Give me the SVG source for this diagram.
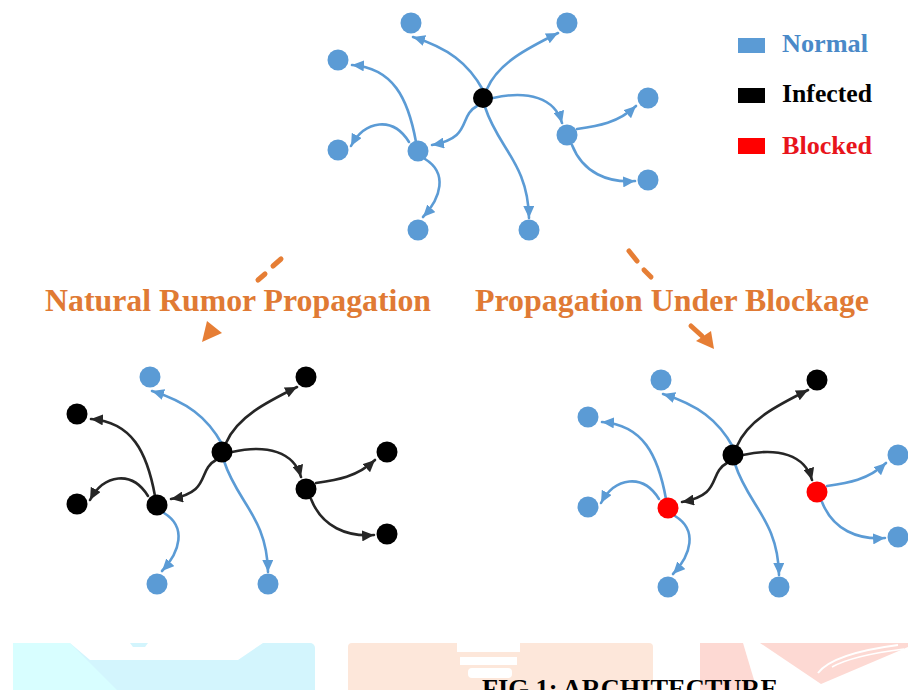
<svg xmlns="http://www.w3.org/2000/svg" width="908" height="690" viewBox="0 0 908 690">
<defs>
<style>
.bg{fill:#ffffff}
.eb{fill:none;stroke:#5B9BD5;stroke-width:2.6;stroke-linecap:round;marker-end:url(#mb)}
.ek{fill:none;stroke:#262626;stroke-width:2.6;stroke-linecap:round;marker-end:url(#mk)}
.nb{fill:#5B9BD5}
.nk{fill:#000000}
.nr{fill:#FF0000}
.lg{font-family:"Liberation Serif","Times New Roman",serif;font-weight:bold;font-size:25px}
.lab{font-family:"Liberation Serif","Times New Roman",serif;font-weight:bold;font-size:31px;fill:#E07A34}
.cap{font-family:"Liberation Serif","Times New Roman",serif;font-weight:bold;font-size:25px;fill:#000000}
.dash{stroke:#E67E35;stroke-width:5;stroke-linecap:round;fill:none}
</style>
<marker id="mb" markerUnits="userSpaceOnUse" markerWidth="13" markerHeight="11" refX="12" refY="5.5" orient="auto"><path d="M0,0 L12,5.5 L0,11 z" fill="#5B9BD5"/></marker>
<marker id="mk" markerUnits="userSpaceOnUse" markerWidth="13" markerHeight="11" refX="12" refY="5.5" orient="auto"><path d="M0,0 L12,5.5 L0,11 z" fill="#262626"/></marker>
</defs>
<rect class="bg" x="0" y="0" width="908" height="690"/>

<!-- watermark blocks -->
<g id="watermark">
<rect x="13" y="643" width="302" height="60" rx="5" fill="#D3F5FD"/>
<polygon points="13,643 70,643 117,690 13,690" fill="#D8FEFF"/>
<polygon points="70,643 263,643 238,660 90,660" fill="#FFFFFF"/>
<polygon points="130,643 148,643 145,647 133,647" fill="#D3F5FD"/>
<rect x="348" y="643" width="305" height="60" rx="4" fill="#FDE7DA"/>
<rect x="457" y="643" width="63" height="9" fill="#FFFFFF"/>
<rect x="460" y="657" width="57" height="8" fill="#FFFFFF"/>
<rect x="468" y="668" width="44" height="10" rx="4" fill="#FFFFFF"/>
<polygon points="700,643 743,643 757,690 700,690" fill="#FDD9D3"/>
<polygon points="760,643 908,643 908,647 821,684" fill="#FDD9D3"/>
<path d="M818,673 C828,660 852,651 898,645" stroke="#FFFFFF" stroke-width="2" fill="none"/>
<path d="M832,667 C848,658 872,653 904,649" stroke="#FFFFFF" stroke-width="1.5" fill="none"/>
</g>

<!-- legend -->
<g id="legend">
<g id="legend-normal"><rect x="738" y="38" width="27" height="15" fill="#5B9BD5"/><text class="lg" x="782" y="52" fill="#4A89C8" textLength="86" lengthAdjust="spacingAndGlyphs">Normal</text></g>
<g id="legend-infected"><rect x="738" y="88" width="27" height="15" fill="#000000"/><text class="lg" x="782" y="102" fill="#000000" textLength="90" lengthAdjust="spacingAndGlyphs">Infected</text></g>
<g id="legend-blocked"><rect x="738" y="138" width="27" height="16" fill="#FF0000"/><text class="lg" x="782" y="154" fill="#E8141B" textLength="90" lengthAdjust="spacingAndGlyphs">Blocked</text></g>
</g>

<!-- transition arrows and labels -->
<g id="transition-left">
<line class="dash" x1="273" y1="266" x2="281" y2="259"/>
<line class="dash" x1="258" y1="280" x2="265" y2="274"/>
<polygon points="202,342 207,321 222,333" fill="#E67E35"/>
<text id="label-natural" class="lab" x="45" y="311" textLength="386" lengthAdjust="spacingAndGlyphs">Natural Rumor Propagation</text>
</g>
<g id="transition-right">
<line class="dash" x1="629" y1="251" x2="637" y2="261"/>
<line class="dash" x1="644" y1="270" x2="651" y2="277"/>
<line class="dash" x1="691" y1="326" x2="702" y2="336"/>
<polygon points="714,349 696,341 711,331" fill="#E67E35"/>
<text id="label-blockage" class="lab" x="475" y="311" textLength="394" lengthAdjust="spacingAndGlyphs">Propagation Under Blockage</text>
</g>

<!-- TOP GRAPH -->
<g id="graph-top" transform="translate(483,98)">
<g id="top-connectors">
<path class="eb" d="M0,-8 C-15,-35 -35,-50 -70,-61"/>
<path class="eb" d="M4,-9 C15,-35 45,-50 75,-65"/>
<path class="eb" d="M10,0 C45,-8 72,0 79,25"/>
<path class="eb" d="M-6,8 C-25,18 -10,40 -51,47"/>
<path class="eb" d="M2,9 C15,50 45,65 46,120"/>
<path class="eb" d="M-67,44 C-75,0 -90,-30 -131,-33"/>
<path class="eb" d="M-74,44 C-90,18 -118,22 -132,48"/>
<path class="eb" d="M-58,61 C-35,75 -42,100 -60,119"/>
<path class="eb" d="M94,31 C115,28 135,25 153,8"/>
<path class="eb" d="M89,47 C100,75 125,85 152,83"/>
</g>
<g id="top-c"><circle class="nk" cx="0" cy="0" r="10"/></g>
<g id="top-tl"><circle class="nb" cx="-72" cy="-75" r="10.5"/></g>
<g id="top-tr"><circle class="nb" cx="84" cy="-75" r="10.5"/></g>
<g id="top-lu"><circle class="nb" cx="-145" cy="-38" r="10.5"/></g>
<g id="top-lm"><circle class="nb" cx="-145" cy="52" r="10.5"/></g>
<g id="top-hl"><circle class="nb" cx="-65" cy="53" r="10.5"/></g>
<g id="top-bl"><circle class="nb" cx="-65" cy="132" r="10.5"/></g>
<g id="top-bm"><circle class="nb" cx="46" cy="132" r="10.5"/></g>
<g id="top-hr"><circle class="nb" cx="84" cy="37" r="10.5"/></g>
<g id="top-ru"><circle class="nb" cx="165" cy="0" r="10.5"/></g>
<g id="top-rl"><circle class="nb" cx="165" cy="82" r="10.5"/></g>
</g>

<!-- BOTTOM LEFT GRAPH -->
<g id="graph-natural" transform="translate(222,452)">
<g id="natural-connectors">
<path class="eb" d="M0,-8 C-15,-35 -35,-50 -70,-61"/>
<path class="ek" d="M4,-9 C15,-35 45,-50 75,-65"/>
<path class="ek" d="M10,0 C45,-8 72,0 79,25"/>
<path class="ek" d="M-6,8 C-25,18 -10,40 -51,47"/>
<path class="eb" d="M2,9 C15,50 45,65 46,120"/>
<path class="ek" d="M-67,44 C-75,0 -90,-30 -131,-33"/>
<path class="ek" d="M-74,44 C-90,18 -118,22 -132,48"/>
<path class="eb" d="M-58,61 C-35,75 -42,100 -60,119"/>
<path class="ek" d="M94,31 C115,28 135,25 153,8"/>
<path class="ek" d="M89,47 C100,75 125,85 152,83"/>
</g>
<g id="nat-c"><circle class="nk" cx="0" cy="0" r="10.5"/></g>
<g id="nat-tl"><circle class="nb" cx="-72" cy="-75" r="10.5"/></g>
<g id="nat-tr"><circle class="nk" cx="84" cy="-75" r="10.5"/></g>
<g id="nat-lu"><circle class="nk" cx="-145" cy="-38" r="10.5"/></g>
<g id="nat-lm"><circle class="nk" cx="-145" cy="52" r="10.5"/></g>
<g id="nat-hl"><circle class="nk" cx="-65" cy="53" r="10.5"/></g>
<g id="nat-bl"><circle class="nb" cx="-65" cy="132" r="10.5"/></g>
<g id="nat-bm"><circle class="nb" cx="46" cy="132" r="10.5"/></g>
<g id="nat-hr"><circle class="nk" cx="84" cy="37" r="10.5"/></g>
<g id="nat-ru"><circle class="nk" cx="165" cy="0" r="10.5"/></g>
<g id="nat-rl"><circle class="nk" cx="165" cy="82" r="10.5"/></g>
</g>

<!-- BOTTOM RIGHT GRAPH -->
<g id="graph-blockage" transform="translate(733,455)">
<g id="blockage-connectors">
<path class="eb" d="M0,-8 C-15,-35 -35,-50 -70,-61"/>
<path class="ek" d="M4,-9 C15,-35 45,-50 75,-65"/>
<path class="ek" d="M10,0 C45,-8 72,0 79,25"/>
<path class="ek" d="M-6,8 C-25,18 -10,40 -51,47"/>
<path class="eb" d="M2,9 C15,50 45,65 46,120"/>
<path class="eb" d="M-67,44 C-75,0 -90,-30 -131,-33"/>
<path class="eb" d="M-74,44 C-90,18 -118,22 -132,48"/>
<path class="eb" d="M-58,61 C-35,75 -42,100 -60,119"/>
<path class="eb" d="M94,31 C115,28 135,25 153,8"/>
<path class="eb" d="M89,47 C100,75 125,85 152,83"/>
</g>
<g id="blk-c"><circle class="nk" cx="0" cy="0" r="10.5"/></g>
<g id="blk-tl"><circle class="nb" cx="-72" cy="-75" r="10.5"/></g>
<g id="blk-tr"><circle class="nk" cx="84" cy="-75" r="10.5"/></g>
<g id="blk-lu"><circle class="nb" cx="-145" cy="-38" r="10.5"/></g>
<g id="blk-lm"><circle class="nb" cx="-145" cy="52" r="10.5"/></g>
<g id="blk-hl"><circle class="nr" cx="-65" cy="53" r="10.5"/></g>
<g id="blk-bl"><circle class="nb" cx="-65" cy="132" r="10.5"/></g>
<g id="blk-bm"><circle class="nb" cx="46" cy="132" r="10.5"/></g>
<g id="blk-hr"><circle class="nr" cx="84" cy="37" r="10.5"/></g>
<g id="blk-ru"><circle class="nb" cx="165" cy="0" r="10.5"/></g>
<g id="blk-rl"><circle class="nb" cx="165" cy="82" r="10.5"/></g>
</g>

<text id="caption" class="cap" x="482" y="697" textLength="296" lengthAdjust="spacingAndGlyphs">FIG 1: ARCHITECTURE</text>
</svg>
